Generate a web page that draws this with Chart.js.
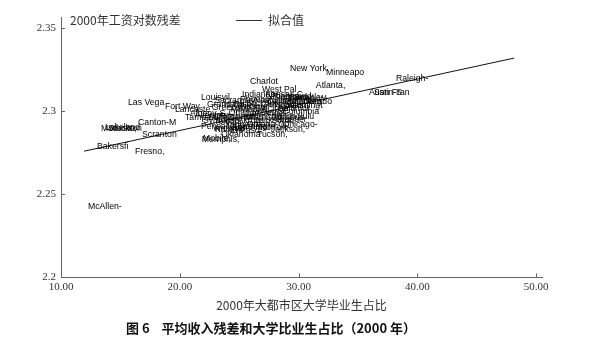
<!DOCTYPE html>
<html>
<head>
<meta charset="utf-8">
<script src="https://cdn.jsdelivr.net/npm/chart.js@4/dist/chart.umd.min.js"></script>
<style>
  html, body { margin: 0; padding: 0; background: #fff; }
</style>
</head>
<body>
<canvas id="residChart" width="590" height="347"></canvas>
<script>
// 城市标签（数据点本身不画，只画名字）
const cityNames = [
  'New York', 'Minneapo', 'Charlot', 'West Pal', 'Atlanta,', 'Raleigh-', 'Austin-S', 'San Fran',
  'Las Vega', 'Fort Way', 'Louisvil', 'Phoenix', 'Indianap', 'Kansas C', 'Richmond', 'San Dieg',
  'Colorado', 'Columbia', 'Grand Ra', 'Lancaste', 'Sacramen', 'Greensbo', 'Harrisbu', 'Milwauke',
  'Pittsbur', 'St. Loui', 'Cincinna', 'Clevelan', 'Nashvill', 'Orlando-', 'Dallas-F', 'Houston-',
  'Philadel', 'Detroit-', 'Baltimor', 'Boston-W', 'Seattle-', 'Portland', 'Washingt', 'Los Ange',
  'Tampa-S', 'Allentow', 'Albany-S', 'Buffalo-', 'Rocheste', 'Syracuse', 'Toledo,', 'Dayton-S',
  'Akron,', 'Youngsto', 'Miami-Fo', 'Jacksonv', 'Columbus', 'Albuquer', 'Chicago-', 'Pensacol',
  'Wichita,', 'Knoxvill', 'Oklahoma', 'Tucson,', 'Jackson,', 'Birmingh', 'El Paso,', 'Memphis,',
  'Mobile,', 'Omaha-Co', 'San Anto', 'Norfolk-', 'Honolulu',
  'Canton-M', 'Modesto,', 'Stockton', 'Lakeland', 'Scranton', 'Bakersfi', 'Fresno,', 'McAllen-'
];
// 2000年大都市区大学毕业生占比（%）
const gradShare = [
  29.28, 32.31, 25.91, 26.92, 31.46, 38.20, 35.93, 36.35,
  15.64, 18.75, 21.78, 25.07, 25.24, 27.20, 27.80, 28.91,
  29.85, 28.64, 22.29, 19.60, 22.90, 22.70, 23.70, 24.30,
  24.97, 25.65, 26.32, 26.83, 26.24, 24.12, 27.34, 27.93,
  28.77, 26.83, 28.26, 29.11, 29.61, 28.00, 29.00, 25.65,
  20.44, 21.28, 20.86, 22.37, 23.38, 21.95, 22.88, 24.05,
  24.88, 23.80, 25.48, 26.32, 27.17, 27.76, 28.68, 21.78,
  22.79, 22.96, 23.47, 26.50, 27.67, 24.88, 24.21, 21.86,
  21.95, 25.65, 24.38, 26.74, 28.43,
  16.49, 13.37, 13.96, 13.70, 16.82, 13.03, 16.23, 12.27
];
// 2000年工资对数残差
const wageResid = [
  2.3253, 2.3229, 2.3175, 2.3127, 2.3151, 2.3193, 2.3114, 2.3114,
  2.3054, 2.3030, 2.3084, 2.3072, 2.3102, 2.3102, 2.3090, 2.3060,
  2.3060, 2.3000, 2.3042, 2.3012, 2.3066, 2.3024, 2.3042, 2.3012,
  2.3030, 2.3048, 2.3018, 2.3042, 2.3066, 2.2994, 2.3060, 2.3036,
  2.3060, 2.2994, 2.3018, 2.3078, 2.3084, 2.3084, 2.3036, 2.2988,
  2.2964, 2.2976, 2.2988, 2.2958, 2.2970, 2.2940, 2.2934, 2.2958,
  2.2940, 2.2916, 2.2958, 2.2940, 2.2958, 2.2946, 2.2916, 2.2904,
  2.2892, 2.2886, 2.2861, 2.2861, 2.2886, 2.2904, 2.2880, 2.2831,
  2.2837, 2.2916, 2.2898, 2.2898, 2.2970,
  2.2928, 2.2892, 2.2892, 2.2898, 2.2861, 2.2789, 2.2759, 2.2428
];
// 拟合值直线两端
const fitX = [11.94, 48.16];
const fitY = [2.2759, 2.3319];

const xTicks = [10, 20, 30, 40, 50];
const yTicks = [2.2, 2.25, 2.3, 2.35];

const serif = '"Liberation Serif", "DejaVu Serif", serif';
const cjk = '"Noto Sans CJK SC", sans-serif';

// 在点的位置写城市名（点右侧，垂直居中）
const cityLabelPlugin = {
  id: 'cityLabels',
  afterDatasetsDraw(chart) {
    const ctx = chart.ctx;
    const meta = chart.getDatasetMeta(0);
    ctx.save();
    ctx.font = '8.7px "Liberation Sans", Arial, sans-serif';
    ctx.fillStyle = '#000';
    ctx.textAlign = 'left';
    ctx.textBaseline = 'middle';
    meta.data.forEach((pt, i) => {
      ctx.fillText(cityNames[i], pt.x, pt.y);
    });
    ctx.restore();
  }
};

// 坐标轴内侧的小刻度线 + 顶部的纵轴名和图例
const extrasPlugin = {
  id: 'extras',
  afterDraw(chart) {
    const ctx = chart.ctx;
    const xs = chart.scales.x;
    const ys = chart.scales.y;
    const area = chart.chartArea;
    ctx.save();
    ctx.strokeStyle = '#666';
    ctx.lineWidth = 1;
    ctx.beginPath();
    xTicks.forEach(v => {
      const px = Math.round(xs.getPixelForValue(v)) + 0.5;
      ctx.moveTo(px, area.bottom);
      ctx.lineTo(px, area.bottom - 4);
    });
    yTicks.forEach(v => {
      const py = Math.round(ys.getPixelForValue(v)) + 0.5;
      ctx.moveTo(area.left, py);
      ctx.lineTo(area.left + 4, py);
    });
    ctx.stroke();

    ctx.font = '12px ' + cjk;
    ctx.fillStyle = '#333';
    ctx.textBaseline = 'middle';
    ctx.fillText('2000年工资对数残差', area.left + 9, 20);

    ctx.strokeStyle = '#333';
    ctx.beginPath();
    ctx.moveTo(236, 20.5);
    ctx.lineTo(262, 20.5);
    ctx.stroke();
    ctx.fillText('拟合值', 268, 20);
    ctx.restore();
  }
};

new Chart(document.getElementById('residChart'), {
  type: 'scatter',
  data: {
    datasets: [{
      label: 'cities',
      data: gradShare.map((x, i) => ({ x: x, y: wageResid[i] })),
      pointRadius: 0,
      pointHoverRadius: 0
    }, {
      type: 'line',
      label: '拟合值',
      data: fitX.map((x, i) => ({ x: x, y: fitY[i] })),
      borderColor: '#111',
      borderWidth: 1,
      pointRadius: 0,
      fill: false,
      tension: 0
    }]
  },
  options: {
    responsive: false,
    animation: false,
    layout: { padding: { top: 17, right: 48, left: 0, bottom: 0 } },
    plugins: {
      legend: { display: false },
      tooltip: { enabled: false },
      title: {
        display: true,
        position: 'bottom',
        text: '图 6    平均收入残差和大学比业生占比（2000 年）',
        color: '#111',
        font: { family: cjk, size: 13, weight: 'bold' },
        padding: { top: 7, bottom: 11 }
      }
    },
    scales: {
      x: {
        type: 'linear',
        min: 10,
        max: 50.5,
        afterBuildTicks: s => { s.ticks = xTicks.map(v => ({ value: v })); },
        afterFit: s => { s.height = 36; },
        grid: { drawOnChartArea: false, drawTicks: false },
        border: { color: '#666', width: 1 },
        ticks: {
          color: '#333',
          padding: 3,
          maxRotation: 0,
          font: { family: serif, size: 11 },
          callback: v => v.toFixed(2)
        },
        title: {
          display: true,
          text: '2000年大都市区大学毕业生占比',
          color: '#333',
          font: { family: cjk, size: 12 },
          padding: { top: 0, bottom: 1 }
        }
      },
      y: {
        type: 'linear',
        min: 2.2,
        max: 2.3566,
        afterBuildTicks: s => { s.ticks = yTicks.map(v => ({ value: v })); },
        afterFit: s => { s.width = 61; },
        grid: { drawOnChartArea: false, drawTicks: false },
        border: { color: '#666', width: 1 },
        ticks: {
          color: '#333',
          padding: 5,
          font: { family: serif, size: 11 },
          callback: v => String(+v.toFixed(2))
        }
      }
    }
  },
  plugins: [cityLabelPlugin, extrasPlugin]
});
</script>
</body>
</html>
